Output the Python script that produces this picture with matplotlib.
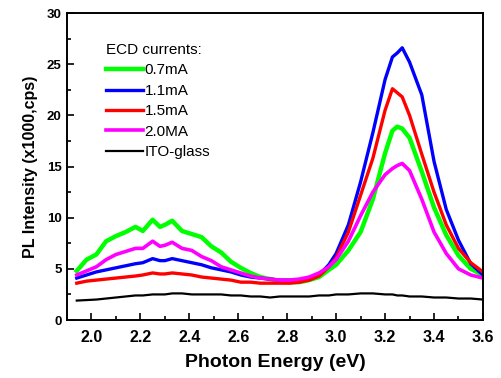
import matplotlib
matplotlib.use("Agg")
import matplotlib.pyplot as plt
from matplotlib.ticker import MultipleLocator

plt.rcParams["font.family"] = ["Liberation Sans", "DejaVu Sans"]

# photon energy grid (eV)
energy = [1.94, 1.98, 2.02, 2.06, 2.10, 2.14, 2.18, 2.21, 2.25, 2.28, 2.30,
          2.33, 2.37, 2.41, 2.45, 2.49, 2.53, 2.57, 2.61, 2.65, 2.69, 2.73,
          2.77, 2.81, 2.85, 2.89, 2.93, 2.97, 3.00, 3.05, 3.10, 3.15, 3.20,
          3.23, 3.25, 3.27, 3.30, 3.35, 3.40, 3.45, 3.50, 3.55, 3.60]

# PL intensity (x1000 cps)
i_07 = [4.8, 5.9, 6.4, 7.7, 8.2, 8.6, 9.1, 8.7, 9.8, 9.1, 9.3,
        9.7, 8.7, 8.4, 8.1, 7.2, 6.6, 5.7, 5.1, 4.6, 4.2, 4.0,
        3.8, 3.7, 3.7, 3.9, 4.2, 4.9, 5.4, 6.8, 8.6, 11.8, 16.3,
        18.5, 18.9, 18.7, 17.8, 14.5, 11.0, 8.3, 6.3, 5.0, 4.4]
i_11 = [4.1, 4.4, 4.7, 4.9, 5.1, 5.3, 5.5, 5.6, 6.0, 5.8, 5.8,
        6.0, 5.8, 5.6, 5.4, 5.1, 4.9, 4.7, 4.4, 4.2, 4.1, 4.0,
        3.9, 3.9, 3.9, 4.1, 4.4, 5.4, 6.5, 9.3, 13.5, 18.3, 23.5,
        25.7, 26.1, 26.6, 25.2, 22.0, 15.5, 10.8, 7.8, 5.5, 4.4]
i_15 = [3.6, 3.8, 3.9, 4.0, 4.1, 4.2, 4.3, 4.4, 4.6, 4.5, 4.5,
        4.6, 4.5, 4.4, 4.2, 4.1, 4.0, 3.9, 3.7, 3.7, 3.6, 3.6,
        3.6, 3.6, 3.7, 3.9, 4.3, 5.2, 6.1, 8.6, 12.2, 15.8, 20.5,
        22.6, 22.2, 21.8, 20.0, 16.2, 12.5, 9.3, 7.0, 5.6, 4.7]
i_20 = [4.4, 4.8, 5.2, 5.9, 6.4, 6.7, 7.0, 7.0, 7.7, 7.2, 7.3,
        7.6, 7.0, 6.8, 6.2, 5.8, 5.2, 4.9, 4.6, 4.3, 4.1, 4.0,
        3.9, 3.9, 4.0, 4.2, 4.6, 5.2, 5.9, 7.7, 10.2, 12.5, 14.2,
        14.8, 15.1, 15.3, 14.6, 11.8, 8.6, 6.5, 5.0, 4.4, 4.1]
i_ito = [1.9, 1.95, 2.0, 2.1, 2.2, 2.3, 2.4, 2.4, 2.5, 2.5, 2.5,
         2.6, 2.6, 2.5, 2.5, 2.5, 2.5, 2.4, 2.4, 2.3, 2.3, 2.2,
         2.3, 2.3, 2.3, 2.3, 2.4, 2.4, 2.5, 2.5, 2.6, 2.6, 2.5,
         2.5, 2.4, 2.4, 2.3, 2.3, 2.2, 2.2, 2.1, 2.1, 2.0]

labels = ["0.7mA", "1.1mA", "1.5mA", "2.0MA", "ITO-glass"]
colors = ["#00FF00", "#0000FF", "#FF0000", "#FF00FF", "#000000"]
widths = [3.2, 2.4, 2.4, 2.6, 1.6]

fig = plt.figure(figsize=(5.01, 3.78), dpi=100)
ax = fig.add_axes([0.1337, 0.1534, 0.8303, 0.8122])

for y, lab, c, w in zip([i_07, i_11, i_15, i_20, i_ito], labels, colors, widths):
    ax.plot(energy, y, color=c, lw=w, label=lab, solid_joinstyle="round")

ax.set_xlim(1.9, 3.6)
ax.set_ylim(0, 30)
ax.xaxis.set_major_locator(MultipleLocator(0.2))
ax.xaxis.set_minor_locator(MultipleLocator(0.1))
ax.yaxis.set_major_locator(MultipleLocator(5))
ax.yaxis.set_minor_locator(MultipleLocator(2.5))
ax.tick_params(which="both", direction="in", top=False, right=False, width=1.2)
ax.tick_params(which="major", length=5)
ax.tick_params(which="minor", length=3)
ax.tick_params(axis="x", labelsize=11.5, pad=7)
ax.tick_params(axis="y", labelsize=9.5, pad=4)
for t in ax.get_xticklabels() + ax.get_yticklabels():
    t.set_fontweight("bold")
for s in ax.spines.values():
    s.set_linewidth(1.4)

ax.set_xlabel("Photon Energy (eV)", fontsize=14, fontweight="bold", labelpad=7)
ax.set_ylabel("PL Intensity (x1000,cps)", fontsize=11.5, fontweight="bold", labelpad=6)

leg = ax.legend(title="ECD currents:", loc="upper left", bbox_to_anchor=(0.08, 0.922),
                frameon=False, fontsize=11, title_fontsize=11, handlelength=2.4,
                handletextpad=0.1, labelspacing=0.42, borderaxespad=0, alignment="left")

fig.savefig("out.png", dpi=100)
